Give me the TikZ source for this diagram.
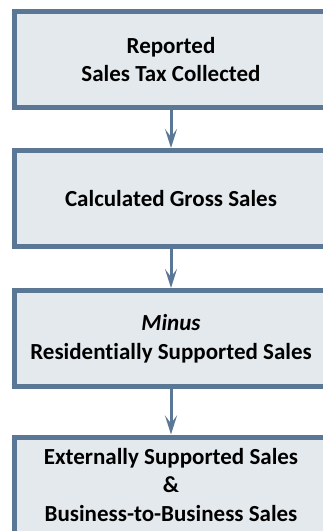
\documentclass[tikz,border=0pt]{standalone}
\usepackage{fontspec}
\setmainfont{Carlito}[Ligatures=CommonOff]
\usetikzlibrary{arrows.meta}

\definecolor{boxline}{HTML}{5A7895}
\definecolor{boxfill}{HTML}{E4E9EE}

\begin{document}
\begin{tikzpicture}[%
            x=1pt,
            y=-1pt,
            >={Stealth[length=19pt,width=12pt,inset=8pt]},
            ]
    \tikzset{stepbox/.style = {draw=boxline, fill=boxfill, line width=5pt, minimum width=313pt, minimum height=96pt, inner sep=0pt, align=center, font=\fontsize{23}{28.5}\selectfont\bfseries}}
    \tikzset{flow/.style = {->, draw=boxline, line width=3pt}}

    \useasboundingbox (0,0) rectangle (323,531);
    \clip (0,0) rectangle (323,531);

    % Boxes
    \node[stepbox] (reported) at (171,59.5) {Reported\\Sales Tax Collected};
    \node[stepbox] (gross) at (171,198.5) {Calculated Gross Sales};
    \node[stepbox] (minus) at (171,338.5) {\textit{Minus}\\Residentially Supported Sales};
    \node[stepbox] (external) at (171,485) {Externally Supported Sales\\\&\\Business-to-Business Sales};

    % Arrows
    \draw[flow] (reported.south) -- (gross.north);
    \draw[flow] (gross.south) -- (minus.north);
    \draw[flow] (minus.south) -- (external.north);

\end{tikzpicture}
\end{document}
